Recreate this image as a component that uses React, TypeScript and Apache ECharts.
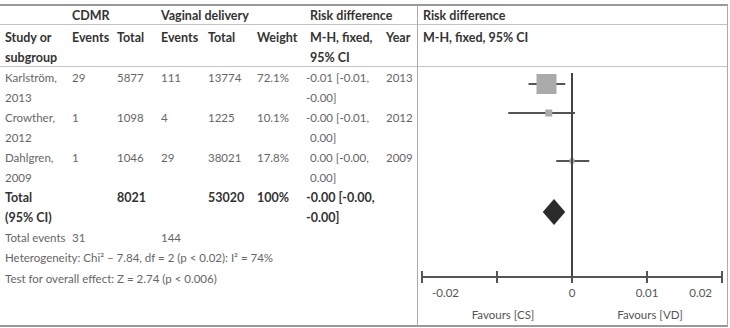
import React, { useEffect, useRef } from 'react';
import * as echarts from 'echarts';

// ---------------- DATA ----------------
const studyNames = ['Karlström,', 'Crowther,', 'Dahlgren,'];
const studyYears = ['2013', '2012', '2009'];
const cdmrEvents = [29, 1, 1];
const cdmrTotals = [5877, 1098, 1046];
const vdEvents = [111, 4, 29];
const vdTotals = [13774, 1225, 38021];
const weights = ['72.1%', '10.1%', '17.8%'];
const rdLine1 = ['-0.01 [-0.01,', '-0.00 [-0.01,', '0.00 [-0.00,'];
const rdLine2 = ['-0.00]', '0.00]', '0.00]'];

const totalCdmr = 8021;
const totalVd = 53020;
const totalWeight = '100%';
const totalRdLine1 = '-0.00 [-0.00,';
const totalRdLine2 = '-0.00]';
const totalEventsCdmr = 31;
const totalEventsVd = 144;
const heterogeneityText = 'Heterogeneity: Chi² – 7.84, df = 2 (p < 0.02): I² = 74%';
const overallEffectText = 'Test for overall effect: Z = 2.74 (p < 0.006)';

// plotted risk differences
const rdEstimates = [-0.0034, -0.0031, 0.0];
const ciLower = [-0.0058, -0.0085, -0.0021];
const ciUpper = [-0.0009, 0.0004, 0.0023];
const studyLevels = [0.55, 2.0, 4.4];
const pooledEstimate = [-0.0024];
const pooledLower = [-0.0039];
const pooledUpper = [-0.0009];
const pooledLevel = [6.95];

const xTickValues = [-0.02, -0.01, 0, 0.01, 0.02];
const xTickLabels = ['-0.02', '', '0', '0.01', '0.02'];

// ---------------- STYLE ----------------
const FONT = 'Lato';
const FS = 11.5;
const FSB = 12.5;
const BODY = '#666';
const HEAD = '#333';
const squareSizes = [20, 7, 5];

function txt(text: string, x: number, y: number, bold = false, color?: string) {
  return {
    type: 'text',
    x,
    y,
    silent: true,
    style: {
      text,
      fill: color || (bold ? HEAD : BODY),
      font: bold ? `bold ${FSB}px ${FONT}` : `${FS}px ${FONT}`,
      verticalAlign: 'middle',
      align: 'left',
    },
  };
}
function hline(y: number, x1: number, x2: number, color: string, w: number) {
  return { type: 'line', silent: true, shape: { x1, y1: y, x2, y2: y }, style: { stroke: color, lineWidth: w } };
}
function vline(x: number, y1: number, y2: number, color: string, w: number) {
  return { type: 'line', silent: true, shape: { x1: x, y1, x2: x, y2 }, style: { stroke: color, lineWidth: w } };
}

const COL = [5, 72, 117, 161, 208, 257, 310, 386, 423];
const rdX = (s: string) => (s.startsWith('-') ? COL[6] - 4 : COL[6]);

export default function App() {
  const ref = useRef<HTMLDivElement>(null);
  useEffect(() => {
    if (!ref.current) return;
    const chart = echarts.init(ref.current, null, { renderer: 'svg' });

    const g: any[] = [];
    g.push(hline(5, 0, 728, '#999', 2));
    g.push(hline(24.5, 0, 728, '#c4c4c4', 1));
    g.push(hline(66.5, 0, 728, '#c4c4c4', 1));
    g.push(hline(326, 0, 728, '#999', 2));
    g.push(vline(417.5, 5, 326, '#aaa', 1));
    g.push(vline(727.5, 5, 326, '#aaa', 1));

    // header
    g.push(txt('CDMR', COL[1], 15, true));
    g.push(txt('Vaginal delivery', COL[3], 15, true));
    g.push(txt('Risk difference', COL[6], 15, true));
    g.push(txt('Risk difference', COL[8], 15, true));
    g.push(txt('Study or', COL[0], 37, true));
    g.push(txt('subgroup', COL[0], 57, true));
    g.push(txt('Events', COL[1], 37, true));
    g.push(txt('Total', COL[2], 37, true));
    g.push(txt('Events', COL[3], 37, true));
    g.push(txt('Total', COL[4], 37, true));
    g.push(txt('Weight', COL[5], 37, true));
    g.push(txt('M-H, fixed,', COL[6], 37, true));
    g.push(txt('95% CI', COL[6], 57, true));
    g.push(txt('Year', COL[7], 37, true));
    g.push(txt('M-H, fixed, 95% CI', COL[8], 37, true));

    // study rows
    studyNames.forEach((name, i) => {
      const y = 77 + i * 40;
      g.push(txt(name, COL[0], y));
      g.push(txt(studyYears[i], COL[0], y + 20));
      g.push(txt(String(cdmrEvents[i]), COL[1], y));
      g.push(txt(String(cdmrTotals[i]), COL[2], y));
      g.push(txt(String(vdEvents[i]), COL[3], y));
      g.push(txt(String(vdTotals[i]), COL[4], y));
      g.push(txt(weights[i], COL[5], y));
      g.push(txt(rdLine1[i], rdX(rdLine1[i]), y));
      g.push(txt(rdLine2[i], rdX(rdLine2[i]), y + 20));
      g.push(txt(studyYears[i], COL[7], y));
    });

    // total row
    g.push(txt('Total', COL[0], 197, true));
    g.push(txt('(95% CI)', COL[0], 217, true));
    g.push(txt(String(totalCdmr), COL[2], 197, true));
    g.push(txt(String(totalVd), COL[4], 197, true));
    g.push(txt(totalWeight, COL[5], 197, true));
    g.push(txt(totalRdLine1, rdX(totalRdLine1), 197, true));
    g.push(txt(totalRdLine2, rdX(totalRdLine2), 217, true));

    g.push(txt('Total events', COL[0], 237));
    g.push(txt(String(totalEventsCdmr), COL[1], 237));
    g.push(txt(String(totalEventsVd), COL[3], 237));
    g.push(txt(heterogeneityText, COL[0], 257));
    g.push(txt(overallEffectText, COL[0], 278));

    // favours labels
    g.push({
      type: 'text', x: 503, y: 314, silent: true,
      style: { text: 'Favours [CS]', fill: '#555', font: `${FS}px ${FONT}`, align: 'center', verticalAlign: 'middle' },
    });
    g.push({
      type: 'text', x: 650, y: 314, silent: true,
      style: { text: 'Favours [VD]', fill: '#555', font: `${FS}px ${FONT}`, align: 'center', verticalAlign: 'middle' },
    });

    const studyData = rdEstimates.map((e, i) => [e, ciLower[i], ciUpper[i], studyLevels[i]]);
    const pooledData = pooledEstimate.map((e, i) => [e, pooledLower[i], pooledUpper[i], pooledLevel[i]]);

    const labelFor = (v: number) => {
      const idx = xTickValues.findIndex((t) => Math.abs(t - v) < 1e-9);
      const s = idx >= 0 ? xTickLabels[idx] : '';
      if (!s) return '';
      if (idx === 0) return `{l|${s}}`;
      if (idx === xTickValues.length - 1) return `{r|${s}}`;
      return `{m|${s}}`;
    };
    const labelStyle = { color: '#555', fontSize: FS, fontFamily: FONT };

    const gridBox = { left: 422, right: 8, top: 73, bottom: 51 };
    const xBase = { type: 'value', min: -0.02, max: 0.02, interval: 0.01, splitLine: { show: false } };

    chart.setOption({
      animation: false,
      backgroundColor: '#fff',
      grid: [gridBox, gridBox],
      xAxis: [
        {
          ...xBase,
          gridIndex: 0,
          position: 'bottom',
          axisLine: { show: true, onZero: false, lineStyle: { color: '#555', width: 2 } },
          axisTick: { show: true, inside: false, length: 6, lineStyle: { color: '#555', width: 2 } },
          axisLabel: {
            show: true,
            margin: 9,
            formatter: labelFor,
            alignMinLabel: 'left',
            alignMaxLabel: 'right',
            ...labelStyle,
            rich: {
              l: { ...labelStyle, padding: [0, 0, 0, 10] },
              r: { ...labelStyle, padding: [0, 10, 0, 0] },
              m: { ...labelStyle },
            },
          },
        },
        {
          ...xBase,
          gridIndex: 1,
          position: 'bottom',
          axisLine: { show: false, onZero: false },
          axisTick: { show: true, inside: true, length: 6, lineStyle: { color: '#555', width: 2 } },
          axisLabel: { show: false },
        },
      ],
      yAxis: [
        { type: 'value', gridIndex: 0, inverse: true, min: 0, max: 10.2, show: false },
        { type: 'value', gridIndex: 1, inverse: true, min: 0, max: 10.2, show: false },
      ],
      graphic: g,
      series: [
        {
          type: 'custom',
          name: 'studies',
          xAxisIndex: 0,
          yAxisIndex: 0,
          data: studyData,
          encode: { x: [0, 1, 2], y: 3 },
          renderItem: (params: any, api: any) => {
            const est = api.value(0);
            const lo = api.value(1);
            const hi = api.value(2);
            const lvl = api.value(3);
            const pLo = api.coord([lo, lvl]);
            const pHi = api.coord([hi, lvl]);
            const pE = api.coord([est, lvl]);
            const s = squareSizes[params.dataIndex] || 6;
            return {
              type: 'group',
              children: [
                {
                  type: 'line',
                  shape: { x1: pLo[0], y1: pLo[1], x2: pHi[0], y2: pHi[1] },
                  style: { stroke: '#555', lineWidth: 2 },
                },
                {
                  type: 'rect',
                  shape: { x: pE[0] - s / 2, y: pE[1] - s / 2, width: s, height: s },
                  style: { fill: '#aaa' },
                },
              ],
            };
          },
          markLine: {
            silent: true,
            symbol: 'none',
            label: { show: false },
            lineStyle: { color: '#444', width: 2, type: 'solid' },
            data: [{ xAxis: 0 }],
          },
          z: 3,
        },
        {
          type: 'custom',
          name: 'pooled',
          xAxisIndex: 0,
          yAxisIndex: 0,
          data: pooledData,
          encode: { x: [0, 1, 2], y: 3 },
          renderItem: (params: any, api: any) => {
            const est = api.value(0);
            const lo = api.value(1);
            const hi = api.value(2);
            const lvl = api.value(3);
            const pLo = api.coord([lo, lvl]);
            const pHi = api.coord([hi, lvl]);
            const pE = api.coord([est, lvl]);
            const h = 13;
            return {
              type: 'polygon',
              shape: {
                points: [
                  [pLo[0], pE[1]],
                  [pE[0], pE[1] - h],
                  [pHi[0], pE[1]],
                  [pE[0], pE[1] + h],
                ],
              },
              style: { fill: '#2b2b2b' },
            };
          },
          z: 4,
        },
      ],
    });

    return () => chart.dispose();
  }, []);

  return (
    <div
      ref={ref}
      style={{ position: 'fixed', left: 0, top: 0, width: 730, height: 328, background: '#fff' }}
    />
  );
}
